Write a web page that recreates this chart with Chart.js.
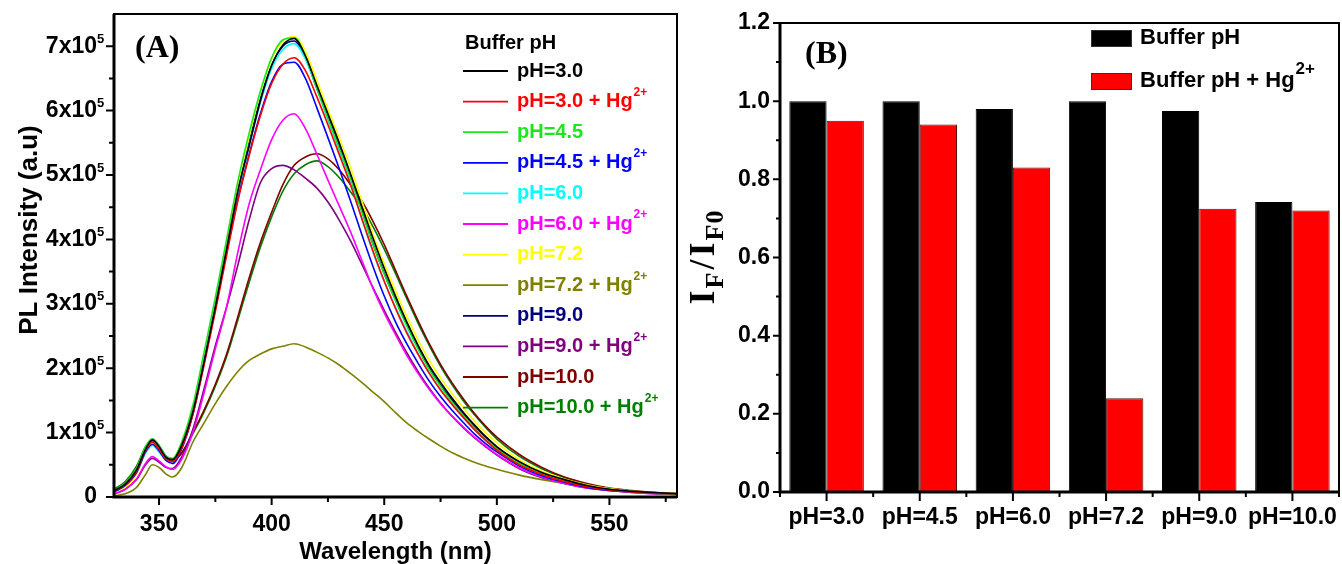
<!DOCTYPE html>
<html>
<head>
<meta charset="utf-8">
<title>PL spectra and quenching ratio vs pH</title>
<script src="https://cdn.jsdelivr.net/npm/chart.js@4.4.1/dist/chart.umd.min.js"></script>
<style>
  html, body { margin: 0; padding: 0; background: #fff; }
  #wrap { position: relative; width: 1342px; height: 564px; overflow: hidden; background: #fff; }
  canvas { position: absolute; top: 0; }
  #spectra { left: 0; }
  #ratio { left: 680px; }
</style>
</head>
<body>
<div id="wrap">
  <canvas id="spectra" width="690" height="564"></canvas>
  <canvas id="ratio" width="662" height="564"></canvas>
</div>
<script>
// ---- (A) emission spectra -------------------------------------------------
// wavelength grid (nm) shared by every spectrum
const WAVELENGTH = [330, 335, 340, 344, 347, 350, 353, 356, 360,
  365, 370, 375, 380, 385, 390, 395, 400, 405, 410, 415, 420, 425, 430, 435, 440, 445, 450, 455, 460,
  465, 470, 475, 480, 485, 490, 495, 500,
  510, 520, 530, 540, 550, 560, 570, 580];

// PL intensity in units of 1e5 a.u.
const PH30 = [0.10, 0.20, 0.42, 0.74, 0.89, 0.78, 0.62, 0.58, 0.80,
  1.32, 2.10, 2.95, 3.85, 4.75, 5.45, 6.15, 6.70, 7.02, 7.12, 6.85, 6.40, 5.95, 5.50, 5.02, 4.52, 4.02, 3.55, 3.12, 2.72,
  2.36, 2.04, 1.78, 1.54, 1.32, 1.12, 0.94, 0.78,
  0.55, 0.38, 0.27, 0.18, 0.12, 0.09, 0.07, 0.05];
const PH30_HG = [0.09, 0.19, 0.40, 0.72, 0.85, 0.74, 0.59, 0.55, 0.76,
  1.28, 2.05, 2.88, 3.75, 4.60, 5.30, 5.92, 6.42, 6.72, 6.82, 6.62, 6.22, 5.78, 5.32, 4.85, 4.33, 3.82, 3.35, 2.93, 2.55,
  2.22, 1.92, 1.66, 1.44, 1.24, 1.05, 0.88, 0.73,
  0.50, 0.35, 0.24, 0.16, 0.11, 0.08, 0.06, 0.05];
const PH45 = [0.10, 0.22, 0.45, 0.78, 0.90, 0.80, 0.64, 0.60, 0.85,
  1.42, 2.25, 3.10, 4.00, 4.90, 5.65, 6.30, 6.82, 7.10, 7.13, 6.85, 6.35, 5.88, 5.42, 4.95, 4.43, 3.92, 3.46, 3.05, 2.66,
  2.30, 1.98, 1.72, 1.48, 1.27, 1.08, 0.90, 0.75,
  0.52, 0.36, 0.25, 0.17, 0.12, 0.09, 0.06, 0.05];
const PH45_HG = [0.08, 0.18, 0.38, 0.70, 0.82, 0.72, 0.57, 0.52, 0.74,
  1.28, 2.08, 2.92, 3.80, 4.62, 5.32, 5.95, 6.45, 6.72, 6.75, 6.50, 6.05, 5.58, 5.10, 4.60, 4.08, 3.58, 3.12, 2.72, 2.38,
  2.08, 1.80, 1.56, 1.35, 1.16, 0.98, 0.83, 0.70,
  0.48, 0.33, 0.23, 0.15, 0.10, 0.08, 0.06, 0.05];
const PH60 = [0.08, 0.18, 0.38, 0.68, 0.80, 0.70, 0.57, 0.54, 0.78,
  1.32, 2.12, 2.98, 3.85, 4.72, 5.45, 6.12, 6.65, 6.95, 7.04, 6.80, 6.35, 5.85, 5.38, 4.88, 4.32, 3.80, 3.35, 2.95, 2.58,
  2.23, 1.93, 1.67, 1.45, 1.24, 1.05, 0.88, 0.73,
  0.51, 0.35, 0.24, 0.16, 0.11, 0.08, 0.06, 0.05];
const PH60_HG = [0.05, 0.12, 0.28, 0.52, 0.63, 0.56, 0.47, 0.43, 0.58,
  1.00, 1.62, 2.30, 2.95, 3.80, 4.55, 5.08, 5.55, 5.85, 5.95, 5.72, 5.33, 4.92, 4.52, 4.12, 3.68, 3.24, 2.86, 2.52, 2.20,
  1.92, 1.67, 1.45, 1.26, 1.09, 0.93, 0.79, 0.66,
  0.45, 0.31, 0.21, 0.14, 0.10, 0.07, 0.05, 0.04];
const PH72 = [0.06, 0.15, 0.35, 0.70, 0.85, 0.76, 0.62, 0.58, 0.80,
  1.35, 2.18, 3.05, 3.95, 4.85, 5.60, 6.28, 6.80, 7.08, 7.15, 6.92, 6.48, 6.02, 5.58, 5.12, 4.60, 4.08, 3.62, 3.20, 2.80,
  2.44, 2.12, 1.85, 1.61, 1.39, 1.18, 1.00, 0.84,
  0.58, 0.40, 0.28, 0.19, 0.13, 0.09, 0.07, 0.05];
const PH72_HG = [0.02, 0.05, 0.15, 0.35, 0.50, 0.46, 0.36, 0.31, 0.45,
  0.85, 1.15, 1.45, 1.72, 1.95, 2.12, 2.22, 2.30, 2.34, 2.38, 2.33, 2.25, 2.16, 2.05, 1.92, 1.78, 1.63, 1.48, 1.31, 1.15,
  1.02, 0.90, 0.79, 0.69, 0.61, 0.54, 0.48, 0.43,
  0.34, 0.27, 0.21, 0.15, 0.11, 0.08, 0.07, 0.06];
const PH90 = [0.10, 0.20, 0.42, 0.74, 0.87, 0.76, 0.61, 0.57, 0.80,
  1.35, 2.15, 3.00, 3.88, 4.75, 5.50, 6.18, 6.70, 7.00, 7.08, 6.82, 6.35, 5.90, 5.45, 4.98, 4.45, 3.93, 3.47, 3.06, 2.68,
  2.32, 2.00, 1.74, 1.51, 1.30, 1.10, 0.93, 0.78,
  0.54, 0.37, 0.26, 0.18, 0.12, 0.09, 0.06, 0.05];
const PH90_HG = [0.05, 0.12, 0.27, 0.50, 0.60, 0.54, 0.46, 0.44, 0.62,
  1.05, 1.68, 2.35, 2.95, 3.60, 4.30, 4.88, 5.10, 5.15, 5.08, 4.95, 4.80, 4.58, 4.30, 3.98, 3.62, 3.25, 2.90, 2.56, 2.24,
  1.95, 1.69, 1.46, 1.26, 1.08, 0.92, 0.78, 0.65,
  0.44, 0.30, 0.21, 0.14, 0.10, 0.07, 0.05, 0.04];
const PH100 = [0.10, 0.22, 0.45, 0.76, 0.88, 0.78, 0.62, 0.56, 0.68,
  1.00, 1.35, 1.75, 2.22, 2.80, 3.40, 3.95, 4.42, 4.85, 5.15, 5.28, 5.33, 5.25, 5.08, 4.85, 4.60, 4.28, 3.92, 3.52, 3.12,
  2.74, 2.38, 2.06, 1.78, 1.53, 1.30, 1.10, 0.93,
  0.66, 0.46, 0.31, 0.21, 0.14, 0.10, 0.07, 0.05];
const PH100_HG = [0.12, 0.24, 0.48, 0.78, 0.90, 0.80, 0.64, 0.58, 0.68,
  0.98, 1.32, 1.72, 2.18, 2.75, 3.33, 3.88, 4.35, 4.75, 5.02, 5.16, 5.22, 5.13, 4.96, 4.74, 4.50, 4.20, 3.85, 3.47, 3.08,
  2.70, 2.35, 2.03, 1.75, 1.50, 1.28, 1.08, 0.90,
  0.63, 0.44, 0.30, 0.20, 0.13, 0.09, 0.07, 0.05];

const SPECTRA = [PH30, PH30_HG, PH45, PH45_HG, PH60, PH60_HG, PH72, PH72_HG, PH90, PH90_HG, PH100, PH100_HG];
const SPECTRA_LABELS = ['pH=3.0', 'pH=3.0 + Hg²⁺', 'pH=4.5', 'pH=4.5 + Hg²⁺', 'pH=6.0', 'pH=6.0 + Hg²⁺',
  'pH=7.2', 'pH=7.2 + Hg²⁺', 'pH=9.0', 'pH=9.0 + Hg²⁺', 'pH=10.0', 'pH=10.0 + Hg²⁺'];
const SPECTRA_COLORS = ['#000000', '#ff0000', '#1ee61e', '#0000ff', '#00ffff', '#ff00ff',
  '#ffff00', '#808000', '#000080', '#800080', '#800000', '#008000'];

const WL_TICKS = [350, 400, 450, 500, 550];
const PL_TICKS = [0, 1, 2, 3, 4, 5, 6, 7];

// ---- (B) relative intensity ----------------------------------------------
const PH_LABELS = ['pH=3.0', 'pH=4.5', 'pH=6.0', 'pH=7.2', 'pH=9.0', 'pH=10.0'];
const RATIO_BUFFER = [1.0, 1.0, 0.98, 1.0, 0.975, 0.742];
const RATIO_HG = [0.95, 0.94, 0.83, 0.24, 0.725, 0.72];
const RATIO_TICKS = [0, 0.2, 0.4, 0.6, 0.8, 1.0, 1.2];

const SANS = "'Liberation Sans', Arial, Helvetica, sans-serif";
const SERIF = "'Liberation Serif', 'Times New Roman', serif";

// pin an axis box to a fixed size and drop the label overhang padding
function fixBox(w, h) {
  return s => {
    if (w != null) s.width = w;
    if (h != null) s.height = h;
    s.paddingTop = s.paddingBottom = s.paddingLeft = s.paddingRight = 0;
  };
}

function useTicks(values) {
  return s => { s.ticks = values.map(value => ({ value })); };
}

// outward tick marks, x below the axis, y left of it
function tickMarks(ctx, scale, values, len) {
  ctx.beginPath();
  values.forEach(v => {
    const p = scale.getPixelForValue(v);
    if (scale.isHorizontal()) {
      ctx.moveTo(p, scale.top); ctx.lineTo(p, scale.top + len);
    } else {
      ctx.moveTo(scale.right, p); ctx.lineTo(scale.right - len, p);
    }
  });
  ctx.stroke();
}

function frame(ctx, a) {
  ctx.strokeStyle = '#000';
  ctx.lineWidth = 2;
  ctx.strokeRect(a.left, a.top, a.right - a.left, a.bottom - a.top);
  ctx.lineWidth = 3;
  ctx.beginPath();
  ctx.moveTo(a.left, a.top); ctx.lineTo(a.left, a.bottom); ctx.lineTo(a.right, a.bottom);
  ctx.stroke();
}

// text ending in a charge like "Hg²⁺" gets the charge as a small raised run
function chargeText(ctx, text, x, y, size, supSize, rise) {
  const m = text.match(/^(.*?)([²⁺]+)$/);
  const base = m ? m[1] : text;
  ctx.font = `bold ${size}px ${SANS}`;
  ctx.fillText(base, x, y);
  if (m) {
    const w = ctx.measureText(base).width;
    ctx.font = `bold ${supSize}px ${SANS}`;
    ctx.fillText(m[2].replace('²', '2').replace('⁺', '+'), x + w + 1, y - rise);
  }
}

const spectraDecor = {
  id: 'spectraDecor',
  afterDraw(chart) {
    const { ctx, chartArea: a, scales: { x, y } } = chart;
    ctx.save();
    frame(ctx, a);
    ctx.lineWidth = 2;
    tickMarks(ctx, x, WL_TICKS, 8);
    tickMarks(ctx, x, WL_TICKS.map(v => v + 25).filter(v => v < x.max), 5);
    tickMarks(ctx, y, PL_TICKS, 8);
    tickMarks(ctx, y, PL_TICKS.map(v => v + 0.5).filter(v => v < y.max), 5);

    // exponent of the "nx10^5" tick labels
    ctx.fillStyle = '#000';
    ctx.textAlign = 'left';
    ctx.textBaseline = 'middle';
    ctx.font = `bold 13px ${SANS}`;
    PL_TICKS.filter(v => v !== 0).forEach(v => ctx.fillText('5', 97, y.getPixelForValue(v) - 7));

    ctx.textBaseline = 'alphabetic';
    ctx.font = `bold 32px ${SERIF}`;
    ctx.fillText('(A)', 135, 57);

    // legend
    ctx.textBaseline = 'middle';
    ctx.font = `bold 20px ${SANS}`;
    ctx.fillText('Buffer pH', 465, 43);
    chart.data.datasets.forEach((ds, i) => {
      const yy = 71 + i * 30.6;
      ctx.strokeStyle = ds.borderColor;
      ctx.lineWidth = 1.8;
      ctx.beginPath(); ctx.moveTo(463, yy); ctx.lineTo(508, yy); ctx.stroke();
      ctx.fillStyle = ds.borderColor;
      chargeText(ctx, ds.label, 517, yy, 20, 12, 9);
    });

    // axis titles
    ctx.fillStyle = '#000';
    ctx.textAlign = 'center';
    ctx.font = `bold 24px ${SANS}`;
    ctx.fillText('Wavelength (nm)', (a.left + a.right) / 2, 552);
    ctx.translate(30, 230);
    ctx.rotate(-Math.PI / 2);
    ctx.font = `bold 26px ${SANS}`;
    ctx.fillText('PL Intensity (a.u)', 0, 0);
    ctx.restore();
  }
};

const tickFont = { family: SANS, size: 23, weight: 'bold' };

new Chart(document.getElementById('spectra'), {
  type: 'line',
  data: {
    datasets: SPECTRA.map((vals, i) => ({
      label: SPECTRA_LABELS[i],
      data: WAVELENGTH.map((wl, k) => ({ x: wl, y: vals[k] })),
      borderColor: SPECTRA_COLORS[i],
      borderWidth: 1.6,
      pointRadius: 0,
      cubicInterpolationMode: 'monotone',
      fill: false
    }))
  },
  options: {
    responsive: false,
    animation: false,
    layout: { padding: { top: 14, right: 13, bottom: 0, left: 0 } },
    plugins: { legend: { display: false }, tooltip: { enabled: false } },
    scales: {
      x: {
        type: 'linear', min: 330, max: 580,
        afterBuildTicks: useTicks(WL_TICKS),
        afterFit: fixBox(null, 67),
        grid: { display: false, drawTicks: false },
        border: { display: false },
        ticks: { font: tickFont, color: '#000', padding: 14, autoSkip: false, maxRotation: 0 }
      },
      y: {
        type: 'linear', min: 0, max: 7.5,
        afterBuildTicks: useTicks(PL_TICKS),
        afterFit: fixBox(114, null),
        grid: { display: false, drawTicks: false },
        border: { display: false },
        ticks: {
          font: tickFont, color: '#000', padding: 17,
          callback: v => (v === 0 ? '0' : v + 'x10')
        }
      }
    }
  },
  plugins: [spectraDecor]
});

const ratioDecor = {
  id: 'ratioDecor',
  afterDraw(chart) {
    const { ctx, chartArea: a, scales: { x, y } } = chart;
    ctx.save();
    frame(ctx, a);
    ctx.lineWidth = 2;
    const idx = PH_LABELS.map((_, i) => i);
    tickMarks(ctx, x, idx, 9);
    tickMarks(ctx, x, idx.concat(PH_LABELS.length).map(i => i - 0.5), 5);
    tickMarks(ctx, y, RATIO_TICKS, 7);
    tickMarks(ctx, y, RATIO_TICKS.map(v => v + 0.1).filter(v => v < y.max), 4);

    ctx.fillStyle = '#000';
    ctx.textAlign = 'left';
    ctx.textBaseline = 'alphabetic';
    ctx.font = `bold 32px ${SERIF}`;
    ctx.fillText('(B)', 125, 63);

    // legend
    const swatches = chart.data.datasets;
    [38, 81].forEach((yy, i) => {
      const ds = swatches[i];
      ctx.fillStyle = ds.backgroundColor;
      ctx.fillRect(411, yy - 8, 41, 17);
      ctx.strokeStyle = '#333';
      ctx.lineWidth = 1;
      ctx.strokeRect(411.5, yy - 7.5, 40, 16);
      ctx.fillStyle = '#000';
      ctx.textBaseline = 'middle';
      chargeText(ctx, ds.label, 460, yy, 22, 17, 12);
    });

    // I_F / I_F0 axis title: [text, size, baseline shift, gap after]
    ctx.translate(34, (a.top + a.bottom) / 2);
    ctx.rotate(-Math.PI / 2);
    ctx.textBaseline = 'alphabetic';
    const parts = [['I', 36, 0, 2], ['F', 26, 9, 3], ['/', 36, 0, 3], ['I', 36, 0, 2], ['F', 26, 9, 1], ['0', 26, 9, 0]];
    let total = 0;
    parts.forEach(p => { ctx.font = `bold ${p[1]}px ${SERIF}`; total += ctx.measureText(p[0]).width + p[3]; });
    let cx = -total / 2;
    parts.forEach(p => {
      ctx.font = `bold ${p[1]}px ${SERIF}`;
      ctx.fillText(p[0], cx, p[2]);
      cx += ctx.measureText(p[0]).width + p[3];
    });
    ctx.restore();
  }
};

new Chart(document.getElementById('ratio'), {
  type: 'bar',
  data: {
    labels: PH_LABELS,
    datasets: [
      { label: 'Buffer pH', data: RATIO_BUFFER, backgroundColor: '#000000', borderColor: '#000000',
        borderWidth: 1, categoryPercentage: 0.8, barPercentage: 1.0 },
      { label: 'Buffer pH + Hg²⁺', data: RATIO_HG, backgroundColor: '#ff0000', borderColor: '#5a1010',
        borderWidth: 1, categoryPercentage: 0.8, barPercentage: 1.0 }
    ]
  },
  options: {
    responsive: false,
    animation: false,
    layout: { padding: { top: 23, right: 3, bottom: 0, left: 0 } },
    plugins: { legend: { display: false }, tooltip: { enabled: false } },
    scales: {
      x: {
        offset: true,
        afterFit: fixBox(null, 72),
        grid: { display: false, drawTicks: false },
        border: { display: false },
        ticks: { font: tickFont, color: '#000', padding: 12, autoSkip: false, maxRotation: 0 }
      },
      y: {
        min: 0, max: 1.2,
        afterBuildTicks: useTicks(RATIO_TICKS),
        afterFit: fixBox(100, null),
        grid: { display: false, drawTicks: false },
        border: { display: false },
        ticks: { font: tickFont, color: '#000', padding: 10, callback: v => v.toFixed(1) }
      }
    }
  },
  plugins: [ratioDecor]
});
</script>
</body>
</html>
